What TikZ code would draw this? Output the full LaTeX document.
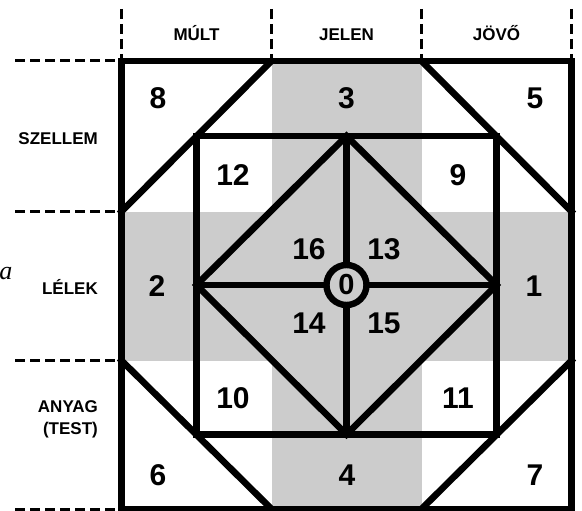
\documentclass[tikz,border=0pt]{standalone}
\usepackage{fontspec}
\setmainfont{Liberation Sans}
\newfontfamily\serifit{Liberation Serif}
\definecolor{crossgray}{RGB}{204,204,204}
\begin{document}
\begin{tikzpicture}[x=1pt,y=-1pt,
  thickline/.style={line width=6.6pt, line join=miter, line cap=rect},
  guide/.style={line width=3pt, dash pattern=on 10pt off 5pt},
  numlab/.style={font=\fontsize{30}{30}\selectfont\bfseries, inner sep=0pt},
  collab/.style={font=\fontsize{17}{20}\selectfont\bfseries, inner sep=0pt, anchor=base},
  rowlab/.style={font=\fontsize{17}{22}\selectfont\bfseries, inner sep=0pt, anchor=base east, align=right}]
\useasboundingbox (0,0) rectangle (582,511);
\fill[white] (0,0) rectangle (582,511);
% grid coordinates
\coordinate (TL) at (121.5,61);
\coordinate (TR) at (571.5,61);
\coordinate (BR) at (571.5,509);
\coordinate (BL) at (121.5,509);
\coordinate (T1) at (271.5,61);
\coordinate (T2) at (421.5,61);
\coordinate (B1) at (271.5,509);
\coordinate (B2) at (421.5,509);
\coordinate (L1) at (121.5,211.5);
\coordinate (L2) at (121.5,360.5);
\coordinate (R1) at (571.5,211.5);
\coordinate (R2) at (571.5,360.5);
% inner square
\coordinate (ITL) at (196.5,136);
\coordinate (ITR) at (496.5,136);
\coordinate (IBR) at (496.5,434.5);
\coordinate (IBL) at (196.5,434.5);
% diamond
\coordinate (DT) at (346.5,136);
\coordinate (DR) at (496.5,285);
\coordinate (DB) at (346.5,434.5);
\coordinate (DL) at (196.5,285);
% gray cross
\fill[crossgray] (T1) rectangle (B2);
\fill[crossgray] (L1) rectangle (R2);
% guides
\coordinate (g1) at (15,61);
\coordinate (g2) at (15,211.5);
\coordinate (g3) at (15,360.5);
\coordinate (g4) at (15,509);
\draw[guide] (g1) -- (TL);
\draw[guide] (g2) -- (L1);
\draw[guide] (g3) -- (L2);
\draw[guide] (g4) -- (BL);
\coordinate (v1) at (121.5,9);
\coordinate (v2) at (271.5,9);
\coordinate (v3) at (421.5,9);
\coordinate (v4) at (571.5,9);
\draw[guide] (v1) -- (TL);
\draw[guide] (v2) -- (T1);
\draw[guide] (v3) -- (T2);
\draw[guide] (v4) -- (TR);
% octagon diagonals
\draw[thickline] (T1) -- (L1);
\draw[thickline] (T2) -- (R1);
\draw[thickline] (R2) -- (B2);
\draw[thickline] (L2) -- (B1);
% inner square
\draw[thickline] (ITL) rectangle (IBR);
% diamond
\draw[thickline] (DT) -- (DR) -- (DB) -- (DL) -- cycle;
% cross lines
\draw[thickline] (DT) -- (DB);
\draw[thickline] (DL) -- (DR);
% outer square
\draw[thickline] (TL) rectangle (BR);
% centre circle
\node[circle, draw, line width=6.4pt, fill=crossgray, minimum size=40pt, inner sep=0pt,
      font=\fontsize{29}{29}\selectfont\bfseries] (n0) at (346.5,285) {0};
% numbers
\node[numlab] (n8) at (158,98) {8};
\node[numlab] (n3) at (346.5,98) {3};
\node[numlab] (n5) at (535,98) {5};
\node[numlab] (n12) at (233,175) {12};
\node[numlab] (n9) at (458,175) {9};
\node[numlab] (n16) at (309,249) {16};
\node[numlab] (n13) at (384,249) {13};
\node[numlab] (n2) at (157,286) {2};
\node[numlab] (n1) at (534,286) {1};
\node[numlab] (n14) at (309,323) {14};
\node[numlab] (n15) at (384,323) {15};
\node[numlab] (n10) at (233,398) {10};
\node[numlab] (n11) at (458,398) {11};
\node[numlab] (n6) at (158,475) {6};
\node[numlab] (n4) at (347,475) {4};
\node[numlab] (n7) at (535,475) {7};
% column labels
\node[collab] (mult) at (196.5,40.5) {MÚLT};
\node[collab] (jelen) at (346.5,40.5) {JELEN};
\node[collab] (jovo) at (496.5,40.5) {JÖVŐ};
% row labels
\node[rowlab] (szellem) at (98,145) {SZELLEM};
\node[rowlab] (lelek) at (98,294) {LÉLEK};
\node[rowlab] (anyag) at (98,434) {ANYAG\\(TEST)};
% stray letter
\node[font=\fontsize{26}{26}\selectfont\serifit\itshape, inner sep=0pt, anchor=base east] (alet) at (12.5,279) {a};
\end{tikzpicture}
\end{document}
